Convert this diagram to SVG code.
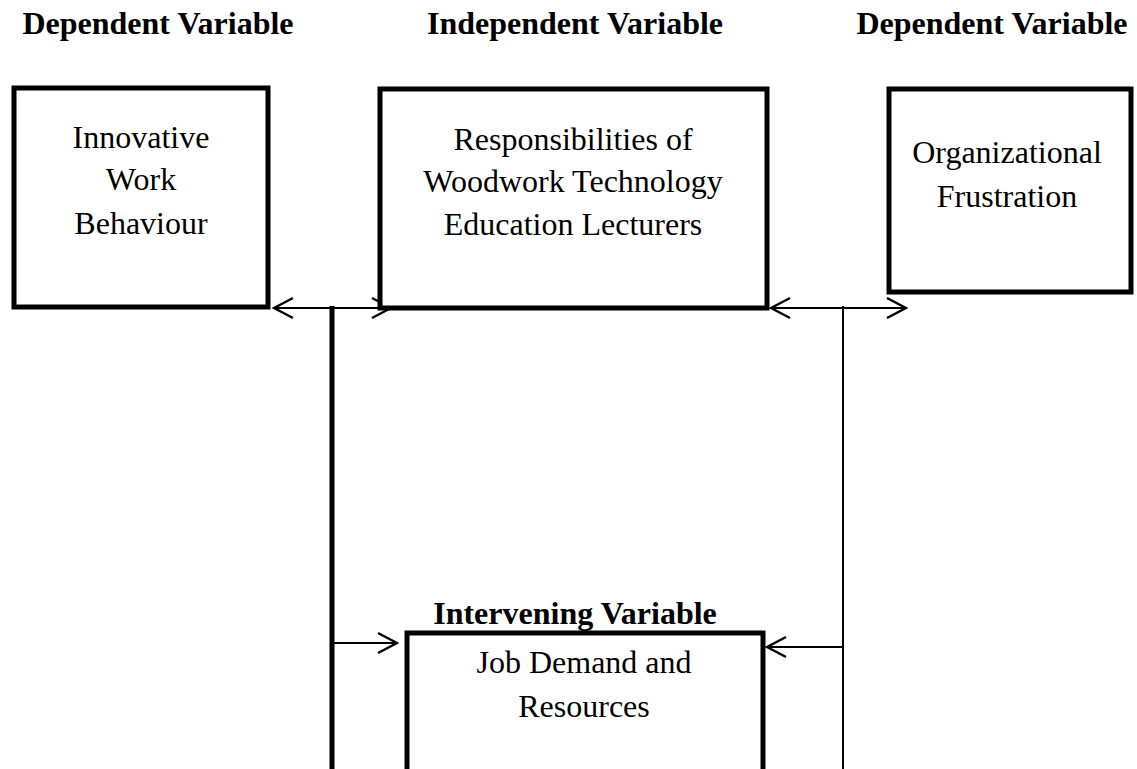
<svg xmlns="http://www.w3.org/2000/svg" width="1137" height="769" viewBox="0 0 1137 769">
<defs>
<style>
.hdr{font-family:"Liberation Serif","Times New Roman",serif;font-weight:bold;font-size:32px;fill:#000;text-anchor:middle}
.lbl{font-family:"Liberation Serif","Times New Roman",serif;font-size:32px;fill:#000;text-anchor:middle}
.box{fill:#fff;stroke:#000;stroke-width:5}
.thin{stroke:#000;stroke-width:2;fill:none}
.thick{stroke:#000;stroke-width:5;fill:none}
</style>
<marker id="ah" markerUnits="userSpaceOnUse" markerWidth="24" markerHeight="24" viewBox="-22 -12 24 24" refX="0" refY="0" orient="auto-start-reverse">
<path d="M-19,-10 L0,0 L-19,10" fill="none" stroke="#000" stroke-width="2.5"/>
</marker>
</defs>
<rect width="1137" height="769" fill="#fff"/>
<g id="headers">
<text class="hdr" x="158" y="34">Dependent Variable</text>
<text class="hdr" x="575" y="34">Independent Variable</text>
<text class="hdr" x="992" y="34">Dependent Variable</text>
</g>
<g id="connectors">
<line class="thin" x1="274" y1="308" x2="391" y2="308" marker-start="url(#ah)" marker-end="url(#ah)"/>
<line class="thin" x1="771" y1="308" x2="906" y2="308" marker-start="url(#ah)" marker-end="url(#ah)"/>
<line class="thick" x1="332" y1="306" x2="332" y2="769"/>
<line class="thin" x1="843" y1="306" x2="843" y2="769"/>
<line class="thin" x1="334" y1="643" x2="397" y2="643" marker-end="url(#ah)"/>
<line class="thin" x1="843" y1="647" x2="767" y2="647" marker-end="url(#ah)"/>
</g>
<g id="node-iwb">
<rect class="box" x="14" y="88" width="254" height="219"/>
<text class="lbl" x="141" y="148">Innovative</text>
<text class="lbl" x="141" y="190">Work</text>
<text class="lbl" x="141" y="234">Behaviour</text>
</g>
<g id="node-resp">
<rect class="box" x="380" y="89" width="387" height="219"/>
<text class="lbl" x="573" y="150">Responsibilities of</text>
<text class="lbl" x="573" y="192">Woodwork Technology</text>
<text class="lbl" x="573" y="235">Education Lecturers</text>
</g>
<g id="node-of">
<rect class="box" x="889" y="89" width="242" height="203"/>
<text class="lbl" x="1007" y="163">Organizational</text>
<text class="lbl" x="1007" y="207">Frustration</text>
</g>
<g id="node-jdr">
<text class="hdr" x="575" y="624">Intervening Variable</text>
<rect class="box" x="407" y="633" width="356" height="150"/>
<text class="lbl" x="584" y="673">Job Demand and</text>
<text class="lbl" x="584" y="717">Resources</text>
</g>
</svg>
